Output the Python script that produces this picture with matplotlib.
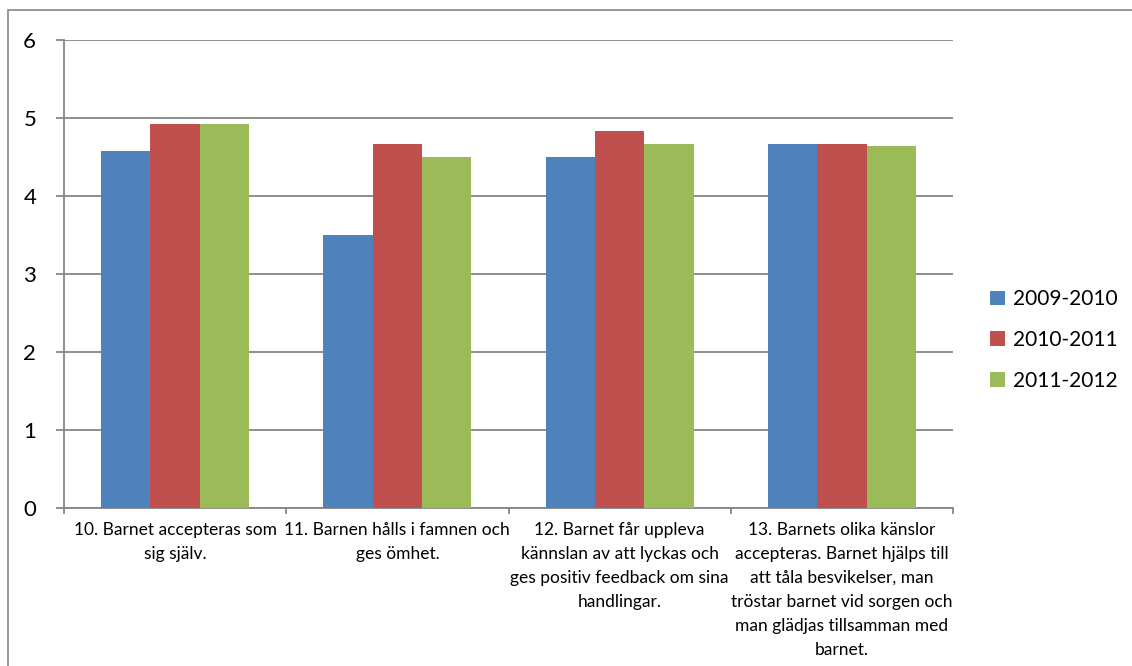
import matplotlib
matplotlib.use("Agg")
import matplotlib.pyplot as plt
import numpy as np
from matplotlib.patches import Rectangle, Patch

categories = [
    "10. Barnet accepteras som\nsig själv.",
    "11. Barnen hålls i famnen och\nges ömhet.",
    "12. Barnet får uppleva\nkännslan av att lyckas och\nges positiv feedback om sina\nhandlingar.",
    "13. Barnets olika känslor\naccepteras. Barnet hjälps till\natt tåla besvikelser, man\ntröstar barnet vid sorgen och\nman glädjas tillsamman med\nbarnet.",
]
series_names = ["2009-2010", "2010-2011", "2011-2012"]
v2009 = [4.58, 3.5, 4.5, 4.67]
v2010 = [4.92, 4.67, 4.83, 4.67]
v2011 = [4.92, 4.5, 4.67, 4.64]
colors = ["#4F81BD", "#C0504D", "#9BBB59"]
yticks = [0, 1, 2, 3, 4, 5, 6]

plt.rcParams['font.family'] = ['Lato', 'DejaVu Sans']

W, H = 1132, 666
fig = plt.figure(figsize=(W / 100, H / 100), dpi=100)
ax = fig.add_axes([64 / W, 1 - 508 / H, (953 - 64) / W, (508 - 40) / H])

x = np.arange(len(categories))
w = 1 / 4.5
for i, (vals, col) in enumerate(zip([v2009, v2010, v2011], colors)):
    ax.bar(x + (i - 1) * w, vals, width=w, color=col, label=series_names[i], zorder=3)

ax.set_xlim(-0.5, len(categories) - 0.5)
ax.set_ylim(0, 6)
ax.set_yticks(yticks)
ax.set_yticklabels([str(t) for t in yticks], fontsize=16)
ax.yaxis.grid(True, color="#868686", linewidth=1.3, zorder=0)
ax.set_axisbelow(True)
for s in ["top", "right"]:
    ax.spines[s].set_visible(False)
for s in ["left", "bottom"]:
    ax.spines[s].set_color("#868686")
    ax.spines[s].set_linewidth(1.3)
ax.tick_params(axis="y", length=6, width=1.3, color="#868686", pad=14)

# category labels and boundary ticks
ax.set_xticks(np.arange(len(categories) + 1) - 0.5, minor=False)
ax.set_xticklabels([])
ax.tick_params(axis="x", length=4, width=1.3, color="#868686")
for xi, lab in zip(x, categories):
    ax.annotate(lab, xy=(xi, 0), xycoords="data", xytext=(0, -10),
                textcoords="offset points", ha="center", va="top",
                fontsize=12.5, linespacing=1.62, annotation_clip=False)

fig.legend(handles=[Patch(facecolor=c, label=n) for c, n in zip(colors, series_names)],
           loc="center left", bbox_to_anchor=(990 / W, 1 - 340 / H),
           frameon=False, fontsize=15, handlelength=0.7, handleheight=0.7,
           handletextpad=0.4, labelspacing=1.0, borderpad=0, borderaxespad=0)

fig.patches.append(Rectangle((8 / W, -0.1), 2, 1 - 10 / H + 0.1, transform=fig.transFigure,
                             fill=False, edgecolor="#868686", linewidth=1.2))

fig.savefig("out.png", dpi=100)
